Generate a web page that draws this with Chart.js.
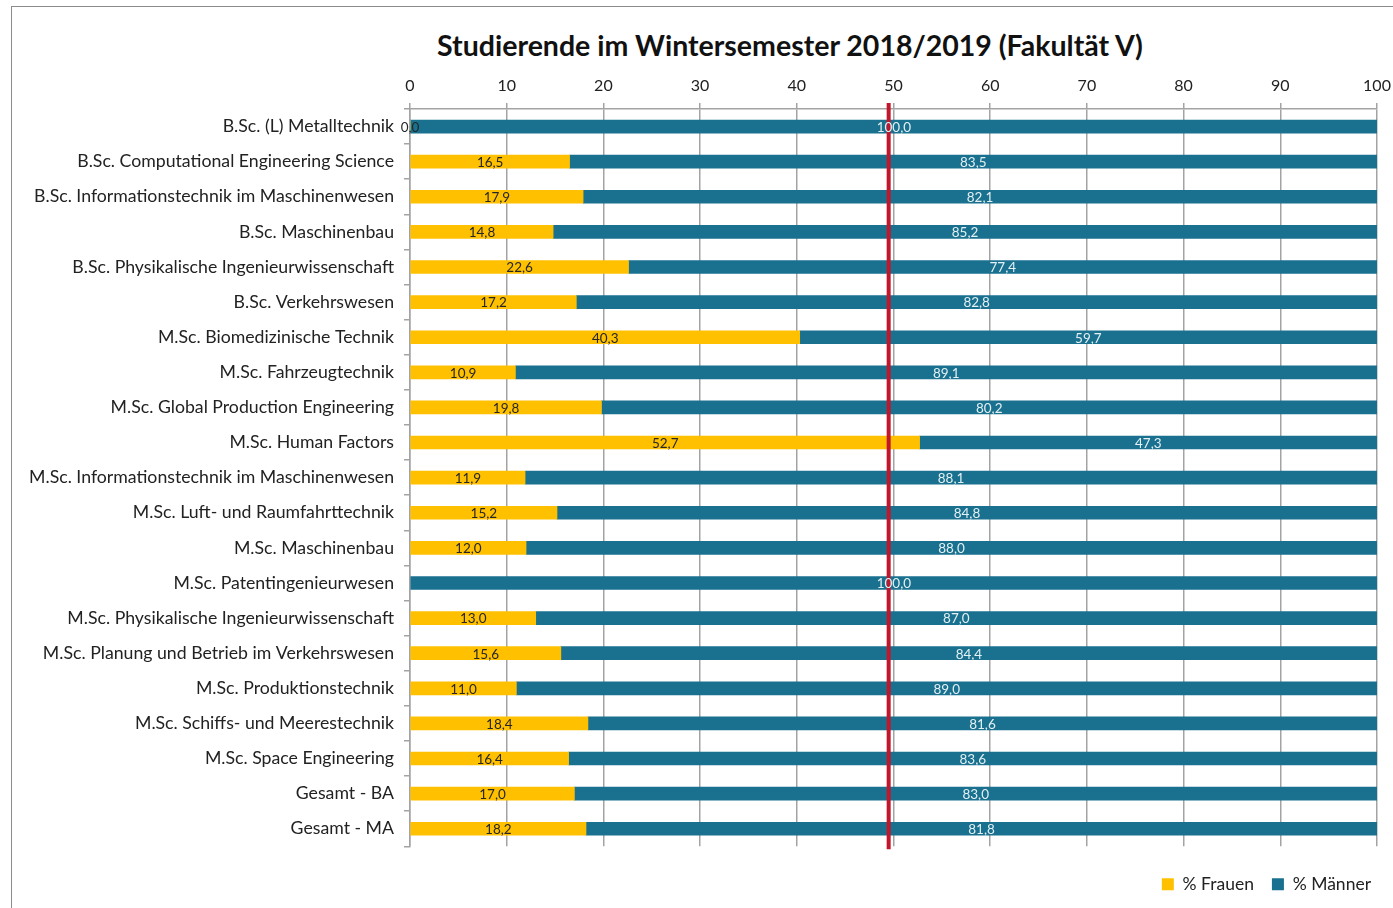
<!DOCTYPE html>
<html lang="de">
<head>
<meta charset="UTF-8">
<title>Studierende im Wintersemester 2018/2019 (Fakultät V)</title>
<script src="https://cdn.jsdelivr.net/npm/chart.js"></script>
<style>
    body {
        margin: 0;
        background: #fff;
        font-family: Lato, sans-serif;
        overflow: hidden;
    }
    .frame {
        position: absolute;
        left: 11px;
        top: 6px;
        width: 1400px;
        height: 920px;
        border: 1.5px solid #8c8c8c;
    }
    .title {
        position: absolute;
        top: 28px;
        left: 0;
        width: 1580px;
        text-align: center;
        font-weight: bold;
        font-size: 28.5px;
        color: #111;
    }
    .wrap {
        position: absolute;
        left: 0;
        top: 0;
    }
</style>
</head>
<body>
<div class="frame"></div>
<div class="title">Studierende im Wintersemester 2018/2019 (Fakultät V)</div>
<div class="wrap"><canvas id="chart" width="1393" height="908"></canvas></div>

<script>
    const courses = [
        'B.Sc. (L) Metalltechnik',
        'B.Sc. Computational Engineering Science',
        'B.Sc. Informationstechnik im Maschinenwesen',
        'B.Sc. Maschinenbau',
        'B.Sc. Physikalische Ingenieurwissenschaft',
        'B.Sc. Verkehrswesen',
        'M.Sc. Biomedizinische Technik',
        'M.Sc. Fahrzeugtechnik',
        'M.Sc. Global Production Engineering',
        'M.Sc. Human Factors',
        'M.Sc. Informationstechnik im Maschinenwesen',
        'M.Sc. Luft- und Raumfahrttechnik',
        'M.Sc. Maschinenbau',
        'M.Sc. Patentingenieurwesen',
        'M.Sc. Physikalische Ingenieurwissenschaft',
        'M.Sc. Planung und Betrieb im Verkehrswesen',
        'M.Sc. Produktionstechnik',
        'M.Sc. Schiffs- und Meerestechnik',
        'M.Sc. Space Engineering',
        'Gesamt - BA',
        'Gesamt - MA'
    ];
    const frauen = [0.0, 16.5, 17.9, 14.8, 22.6, 17.2, 40.3, 10.9, 19.8, 52.7, 11.9,
                    15.2, 12.0, null, 13.0, 15.6, 11.0, 18.4, 16.4, 17.0, 18.2];
    const maenner = [100.0, 83.5, 82.1, 85.2, 77.4, 82.8, 59.7, 89.1, 80.2, 47.3, 88.1,
                     84.8, 88.0, 100.0, 87.0, 84.4, 89.0, 81.6, 83.6, 83.0, 81.8];
    const seriesNames = ['% Frauen', '% Männer'];
    const refLine = 49.5;

    const fontFamily = 'Lato, sans-serif';
    const gridColor = '#a3a3a3';

    // red reference line + value labels on the bars
    const overlay = {
        id: 'overlay',
        afterLayout(chart) {
            // push the legend a bit further to the right edge
            chart.legend.left += 12;
            chart.legend.right += 12;
        },
        afterDatasetsDraw(chart) {
            const {ctx, chartArea, scales} = chart;
            const x = scales.x.getPixelForValue(refLine);
            ctx.save();
            ctx.strokeStyle = '#c0172c';
            ctx.lineWidth = 4;
            ctx.beginPath();
            ctx.moveTo(x, chartArea.top - 6);
            ctx.lineTo(x, chartArea.bottom + 3);
            ctx.stroke();

            ctx.font = '13.5px ' + fontFamily;
            ctx.textAlign = 'center';
            ctx.textBaseline = 'middle';
            chart.data.datasets.forEach((ds, i) => {
                chart.getDatasetMeta(i).data.forEach((bar, j) => {
                    const v = ds.data[j];
                    if (v === null) return;
                    const p = bar.getProps(['x', 'y', 'base'], true);
                    ctx.fillStyle = ds.labelColor;
                    ctx.fillText(v.toFixed(1).replace('.', ','), (p.x + p.base) / 2, p.y + 1);
                });
            });
            ctx.restore();
        }
    };

    new Chart(document.getElementById('chart'), {
        type: 'bar',
        data: {
            labels: courses,
            datasets: [
                {
                    label: seriesNames[0],
                    data: frauen,
                    backgroundColor: '#ffc000',
                    labelColor: '#262626',
                    barThickness: 13
                },
                {
                    label: seriesNames[1],
                    data: maenner,
                    backgroundColor: '#19718f',
                    labelColor: '#e4f0f3',
                    barThickness: 13
                }
            ]
        },
        options: {
            indexAxis: 'y',
            responsive: false,
            animation: false,
            layout: {
                padding: {left: 12, right: 16, top: 69, bottom: 5}
            },
            scales: {
                x: {
                    position: 'top',
                    stacked: true,
                    min: 0,
                    max: 100,
                    ticks: {
                        stepSize: 10,
                        color: '#222',
                        padding: 8,
                        font: {size: 16, family: fontFamily}
                    },
                    grid: {color: gridColor, lineWidth: 1.5, tickLength: 6},
                    border: {color: gridColor, width: 1.5},
                    afterFit(scale) {
                        scale.height = 40;
                        scale.paddingLeft = 0;
                        scale.paddingRight = 0;
                    }
                },
                y: {
                    stacked: true,
                    ticks: {
                        color: '#222',
                        padding: 10,
                        font: {size: 17.7, family: fontFamily}
                    },
                    grid: {drawOnChartArea: false, color: gridColor, lineWidth: 1.5, tickLength: 6},
                    border: {color: gridColor, width: 1.5},
                    afterFit(scale) { scale.width = 398; }
                }
            },
            plugins: {
                legend: {
                    position: 'bottom',
                    align: 'end',
                    title: {display: true, text: '', font: {size: 1}, padding: {top: 10, bottom: 0}},
                    labels: {
                        boxWidth: 12,
                        boxHeight: 12,
                        color: '#222',
                        padding: 18,
                        font: {size: 17.5, family: fontFamily}
                    }
                },
                tooltip: {enabled: false}
            }
        },
        plugins: [overlay]
    });
</script>
</body>
</html>
